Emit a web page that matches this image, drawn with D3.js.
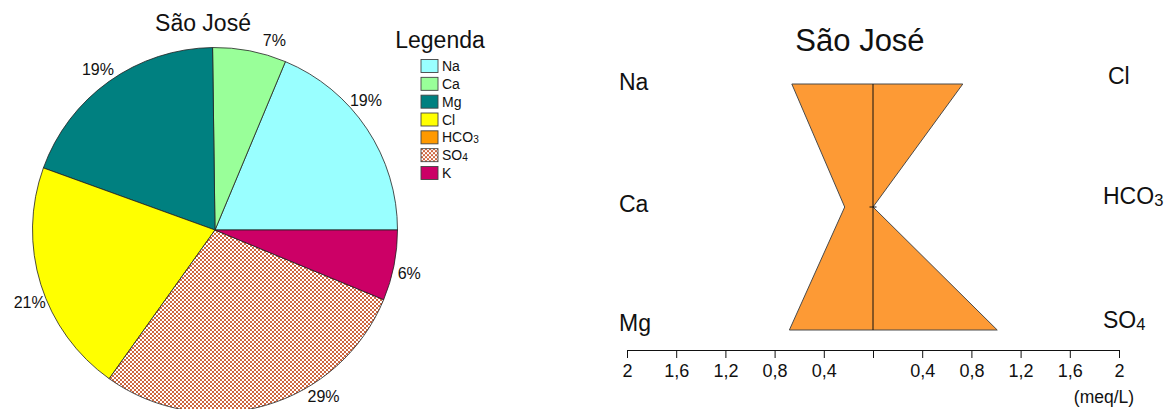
<!DOCTYPE html>
<html>
<head>
<meta charset="utf-8">
<script src="https://cdn.jsdelivr.net/npm/d3@7"></script>
<style>
  html, body { margin: 0; padding: 0; background: #fff; }
  svg { display: block; font-family: "Liberation Sans", Arial, sans-serif; }
</style>
</head>
<body>
<svg id="chart" width="1168" height="409"></svg>
<script>
// Ion concentrations (meq/L) for the São José sample
const ions      = ["Na", "Ca", "Mg", "Cl", "HCO3", "SO4", "K"];
const ionLabels = [["Na"], ["Ca"], ["Mg"], ["Cl"], ["HCO", "3"], ["SO", "4"], ["K"]];
const values    = [0.66, 0.23, 0.68, 0.73, 0.0, 1.01, 0.22];
const colors    = ["#99ffff", "#99ff99", "#008080", "#ffff00", "#ff9900", "url(#xhatch)", "#cc0066"];

// Stiff diagram rows: cations on the left, anions on the right
const cations = ["Na", "Ca", "Mg"];
const anions  = ["Cl", "HCO3", "SO4"];
const axisTicks = [-2, -1.6, -1.2, -0.8, -0.4, 0, 0.4, 0.8, 1.2, 1.6, 2];

const title = "São José";
const valueOf = Object.fromEntries(ions.map((k, i) => [k, values[i]]));
const labelOf = Object.fromEntries(ions.map((k, i) => [k, ionLabels[i]]));

const svg = d3.select("#chart");
const FONT = '"Liberation Sans", Arial, sans-serif';

// cross-hatch fill used for sulphate
const defs = svg.append("defs");
const pat = defs.append("pattern")
  .attr("id", "xhatch").attr("patternUnits", "userSpaceOnUse")
  .attr("width", 4).attr("height", 4);
pat.append("rect").attr("width", 4).attr("height", 4).attr("fill", "#fff");
pat.append("path")
  .attr("d", "M0,0L4,4M4,0L0,4")
  .attr("stroke", "#c8552a").attr("stroke-width", 0.9).attr("fill", "none");

// helper: text with optional subscript
function ionText(sel, parts, size) {
  sel.append("tspan").text(parts[0]);
  if (parts[1]) {
    sel.append("tspan").attr("font-size", size * 0.72).attr("dy", size * 0.08).text(parts[1]);
  }
}

/* ---------------- Pie chart ---------------- */
const cx = 215, cy = 230, r = 182.5;
const pieG = svg.append("g").attr("transform", `translate(${cx},${cy})`);

const pie = d3.pie().sort(null).value(d => d.v)
  .startAngle(Math.PI / 2).endAngle(Math.PI / 2 - 2 * Math.PI);
const slices = pie(ions.map((k, i) => ({ k, v: values[i], c: colors[i] })));
const arc = d3.arc().innerRadius(0).outerRadius(r);
const total = d3.sum(values);

pieG.selectAll("path.slice")
  .data(slices.filter(d => d.data.v > 0))
  .join("path")
  .attr("class", "slice")
  .attr("d", arc)
  .attr("fill", d => d.data.c)
  .attr("stroke", "#222").attr("stroke-width", 0.8);

// percent labels around the rim (angular nudges in degrees, counter-clockwise)
const labelShift = { Na: 7, Ca: -6.4, Mg: 0.6, Cl: 4, SO4: 17, K: -1.3 };
const labelR = 199;
pieG.selectAll("text.pct")
  .data(slices.filter(d => d.data.v > 0))
  .join("text")
  .attr("class", "pct")
  .each(function (d) {
    const a = (d.startAngle + d.endAngle) / 2 - (labelShift[d.data.k] || 0) * Math.PI / 180;
    d3.select(this)
      .attr("x", labelR * Math.sin(a))
      .attr("y", -labelR * Math.cos(a));
  })
  .attr("text-anchor", "middle")
  .attr("dominant-baseline", "central")
  .attr("font-size", 16).attr("fill", "#111")
  .text(d => Math.round(d.data.v / total * 100) + "%");

svg.append("text")
  .attr("x", 203).attr("y", 31)
  .attr("text-anchor", "middle")
  .attr("font-size", 23).attr("fill", "#111")
  .text(title);

/* ---------------- Legend ---------------- */
const lg = svg.append("g");
lg.append("text")
  .attr("x", 440).attr("y", 48)
  .attr("text-anchor", "middle")
  .attr("font-size", 23).attr("fill", "#111")
  .text("Legenda");

const legendY = d3.scalePoint().domain(ions).range([66, 173]);
const items = lg.selectAll("g.item").data(ions).join("g").attr("class", "item")
  .attr("transform", k => `translate(0,${legendY(k)})`);
items.append("rect")
  .attr("x", 421).attr("y", -6.5).attr("width", 17).attr("height", 13)
  .attr("fill", (k, i) => colors[i])
  .attr("stroke", "#444").attr("stroke-width", 0.9);
items.append("text")
  .attr("x", 442).attr("y", 5)
  .attr("font-size", 14).attr("fill", "#111")
  .each(function (k) { ionText(d3.select(this), labelOf[k], 14); });

/* ---------------- Stiff diagram ---------------- */
const x = d3.scaleLinear().domain([-2, 2]).range([627, 1119]);
const row = d3.scalePoint().domain([0, 1, 2]).range([84, 330]);

const pts = [
  [x(-valueOf[cations[0]]), row(0)],
  [x(valueOf[anions[0]]), row(0)],
  [x(valueOf[anions[1]]), row(1)],
  [x(valueOf[anions[2]]), row(2)],
  [x(-valueOf[cations[2]]), row(2)],
  [x(-valueOf[cations[1]]), row(1)]
];
svg.append("path")
  .attr("d", d3.line()(pts) + "Z")
  .attr("fill", "#fd9a35")
  .attr("stroke", "#4a4a4a").attr("stroke-width", 1);

// central axis and marker at the middle row
svg.append("line")
  .attr("x1", x(0)).attr("x2", x(0))
  .attr("y1", row(0)).attr("y2", row(2))
  .attr("stroke", "#111").attr("stroke-width", 1);
svg.append("line")
  .attr("x1", x(0) - 3.5).attr("x2", x(0) + 3.5)
  .attr("y1", row(1)).attr("y2", row(1))
  .attr("stroke", "#111").attr("stroke-width", 1);

svg.append("text")
  .attr("x", 860).attr("y", 51)
  .attr("text-anchor", "middle")
  .attr("font-size", 31).attr("fill", "#111")
  .text(title);

// ion names beside each row
const leftOffset = [6, 5, 1], rightOffset = [0, -3, -2];
svg.selectAll("text.cat").data(cations).join("text")
  .attr("class", "cat")
  .attr("x", 619).attr("y", (k, i) => row(i) + leftOffset[i])
  .attr("font-size", 23).attr("fill", "#111")
  .each(function (k) { ionText(d3.select(this), labelOf[k], 23); });
svg.selectAll("text.an").data(anions).join("text")
  .attr("class", "an")
  .attr("x", (k, i) => i === 0 ? 1108 : 1103).attr("y", (k, i) => row(i) + rightOffset[i])
  .attr("font-size", 23).attr("fill", "#111")
  .each(function (k) { ionText(d3.select(this), labelOf[k], 23); });

// bottom scale, mirrored about zero
const fmt = v => v === 0 ? "" : String(Math.abs(v)).replace(".", ",");
const axisG = svg.append("g")
  .attr("transform", "translate(0,350)")
  .call(d3.axisBottom(x).tickValues(axisTicks).tickFormat(fmt)
    .tickSize(8).tickSizeOuter(0).tickPadding(6));
axisG.select(".domain").attr("stroke", "#111");
axisG.selectAll(".tick line").attr("stroke", "#111");
axisG.selectAll(".tick text")
  .attr("font-family", FONT).attr("font-size", 18).attr("fill", "#111");

svg.append("text")
  .attr("x", 1104).attr("y", 403)
  .attr("text-anchor", "middle")
  .attr("font-size", 17.5).attr("fill", "#111")
  .text("(meq/L)");
</script>
</body>
</html>
